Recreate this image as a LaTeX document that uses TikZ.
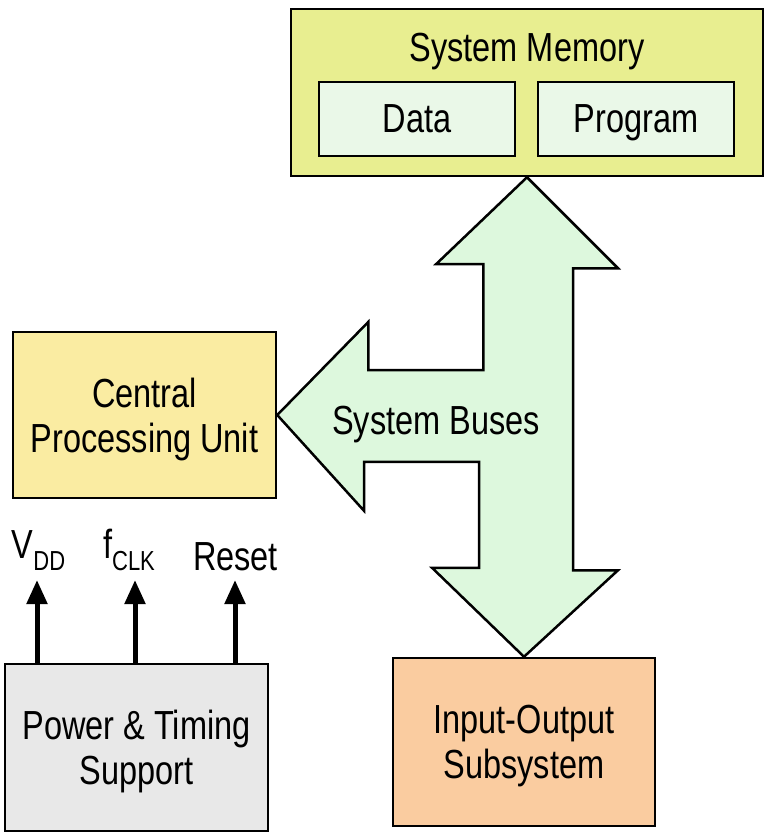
\documentclass[tikz,border=0pt]{standalone}
\usepackage{fontspec}
\setmainfont{Liberation Sans}
\usetikzlibrary{positioning,arrows.meta}

\definecolor{memfill}{RGB}{232,238,144}
\definecolor{cellfill}{RGB}{234,248,232}
\definecolor{busfill}{RGB}{221,248,221}
\definecolor{cpufill}{RGB}{250,236,162}
\definecolor{iofill}{RGB}{250,204,160}
\definecolor{pwrfill}{RGB}{232,232,232}

\newcommand\tall[1]{\raisebox{0pt}[\height][0pt]{\scalebox{1}[1.25]{#1}}}
\newcommand\sublbl[2]{\tall{\raisebox{9.6pt}{#1}{\fontsize{22}{22}\selectfont #2}}}

\tikzset{
  block/.style={draw, line width=2.5pt, inner sep=0pt, align=center,
    font=\fontsize{32.5}{45}\selectfont},
  txt/.style={inner sep=0pt, align=center, font=\fontsize{32.5}{45}\selectfont},
  sig/.style={-{Triangle[length=24pt,width=20pt]}, line width=5pt},
  bus/.style={draw, line width=2.5pt, fill=busfill}}

\begin{document}
\begin{tikzpicture}[x=1pt,y=-1pt]
    \useasboundingbox (0,0) rectangle (768,835);
    % memory
    \node[block, fill=memfill, minimum width=472pt, minimum height=167pt] (mem) at (527,92.5) {};
    \node[txt] (memt) at (527,47) {\tall{System Memory}};
    \node[block, fill=cellfill, minimum width=196pt, minimum height=74pt] (data) at (417,119) {\tall{Data}};
    \node[block, fill=cellfill, minimum width=196pt, minimum height=74pt] (prog) at (636,119) {\tall{Program}};
    % cpu, io, power
    \node[block, fill=cpufill, minimum width=263pt, minimum height=166pt] (cpu) at (144.5,415) {\tall{Central}\\\tall{Processing Unit}};
    \node[block, fill=iofill, minimum width=262pt, minimum height=168pt] (io) at (524,742) {\tall{Input-Output}\\\tall{Subsystem}};
    \node[block, fill=pwrfill, minimum width=263pt, minimum height=167pt] (pwr) at (136.5,747.5) {\tall{Power \& Timing}\\\tall{Support}};
    % bus arrow
    \draw[bus] (mem.south) -- ++(91,91) -- ++(-45,0) -- ++(0,302) -- ++(45,0)
      -- (io.north) -- ++(-92,-89) -- ++(47,0) -- ++(0,-106) -- ++(-115,0)
      -- ++(0,49) -- (cpu.east) -- ++(91,-93) -- ++(0,48) -- ++(115,0)
      -- ++(0,-106) -- ++(-47,0) -- cycle;
    \node[txt] (bus) at (436,420) {\tall{System Buses}};
    % signals
    \coordinate (tvdd) at (37,580);
    \coordinate (tclk) at (135,580);
    \coordinate (trst) at (235,580);
    \draw[sig] (pwr.north -| tvdd) -- (tvdd);
    \draw[sig] (pwr.north -| tclk) -- (tclk);
    \draw[sig] (pwr.north -| trst) -- (trst);
    \node[txt, anchor=base] (vdd) at (38.5,570) {\sublbl{V}{DD}};
    \node[txt, anchor=base] (fclk) at (129,570) {\sublbl{f}{CLK}};
    \node[txt, anchor=base] (rst) at (235.5,570) {\tall{Reset}};
\end{tikzpicture}
\end{document}
